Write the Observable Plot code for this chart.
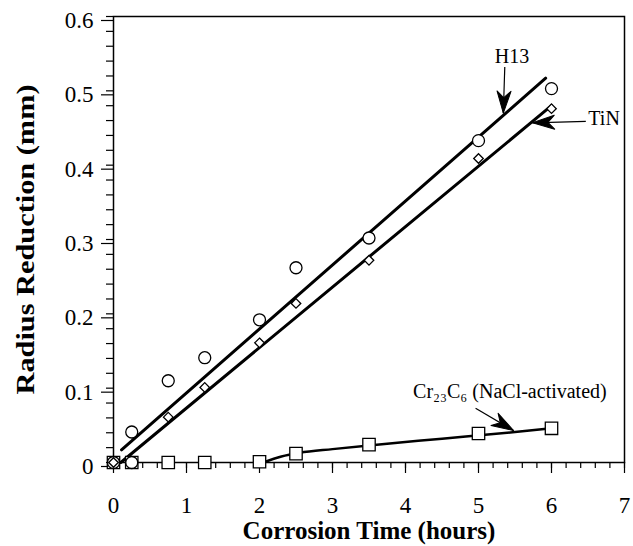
<!DOCTYPE html>
<html><head><meta charset="utf-8">
<script src="https://cdn.jsdelivr.net/npm/d3@7"></script>
<script src="https://cdn.jsdelivr.net/npm/@observablehq/plot@0.6"></script>
<style>html,body{margin:0;padding:0;background:#fff;overflow:hidden} svg{display:block}</style>
</head><body><div id="chart"></div>
<script>
// ---- data ----
const h13Times  = [0, 0.25, 0.25, 0.75, 1.25, 2, 2.5, 3.5, 5, 6];
const h13Values = [0, 0, 0.041, 0.110, 0.141, 0.192, 0.262, 0.302, 0.433, 0.503];
const tinTimes  = [0, 0.75, 1.25, 2, 2.5, 3.5, 5, 6];
const tinValues = [0, 0.061, 0.101, 0.161, 0.214, 0.272, 0.409, 0.476];
const crTimes   = [0, 0.25, 0.75, 1.25, 2, 2.5, 3.5, 5, 6];
const crValues  = [0, 0, 0, 0, 0.001, 0.012, 0.024, 0.039, 0.046];

// fitted lines / curve
const h13FitX = [0.11, 5.92];
const h13FitY = [0.017, 0.517];
const tinFitX = [0.10, 6.0];
const tinFitY = [0.0, 0.48];
const crCurveX = [2.05, 2.3, 2.55, 3.0, 3.5, 4.5, 5.5, 6.0];
const crCurveY = [0.0, 0.008, 0.013, 0.018, 0.023, 0.032, 0.041, 0.046];

// annotations
const labelText = ["H13", "TiN", "Cr₂₃C₆ (NaCl-activated)"];
const labelX = [5.46, 6.72, 5.43];
const labelY = [0.546, 0.463, 0.095];
const arrowX1 = [5.36, 6.47, 4.96];
const arrowY1 = [0.532, 0.459, 0.073];
const arrowX2 = [5.34, 5.74, 5.48];
const arrowY2 = [0.470, 0.457, 0.043];

// axes ticks
const xMajorTicks = [0, 1, 2, 3, 4, 5, 6, 7];
const yMajorTicks = [0, 0.1, 0.2, 0.3, 0.4, 0.5, 0.6];
const xMinorTicks = d3.range(0, 36).map(i => i / 5);
const yMinorTicks = d3.range(0, 31).map(i => i / 50);

const xTitle = "Corrosion Time (hours)";
const yTitle = "Radius Reduction (mm)";

// ---- build ----
const FONT = "Liberation Serif";
const pts = (xs, ys) => xs.map((x, i) => ({x, y: ys[i]}));
const baseOpts = {
  width: 633, height: 546,
  marginLeft: 113, marginRight: 9, marginTop: 16, marginBottom: 84,
  x: {domain: [0, 7]},
  y: {domain: [0, 0.6]},
  style: {fontFamily: FONT, background: "white", color: "black", overflow: "visible"}
};
const probe = Plot.plot({...baseOpts, marks: [Plot.frame()]});
const sx = probe.scale("x"), sy = probe.scale("y");
const arrows = arrowX1.map((x1, i) => {
  const px1 = sx.apply(x1), py1 = sy.apply(arrowY1[i]);
  const px2 = sx.apply(arrowX2[i]), py2 = sy.apply(arrowY2[i]);
  return {x1, y1: arrowY1[i], x2: arrowX2[i], y2: arrowY2[i],
          angle: Math.atan2(px2 - px1, -(py2 - py1)) * 180 / Math.PI};
});
const headShape = {
  draw(context, l, r) {
    context.moveTo(0, -l);
    context.lineTo(r, 0);
    context.lineTo(0, -l * 0.3);
    context.lineTo(-r, 0);
    context.closePath();
  }
};
const labels = labelText.map((t, i) => ({t, x: labelX[i], y: labelY[i]}));

const chart = Plot.plot({
  ...baseOpts,
  marks: [
    Plot.axisX(xMinorTicks, {tickSize: 6, tickFormat: () => "", label: null, strokeWidth: 1.2}),
    Plot.axisX(xMajorTicks, {tickSize: 11, tickPadding: 23, fontSize: 23, label: null, strokeWidth: 1.2, tickFormat: d => String(d)}),
    Plot.axisY(yMinorTicks, {tickSize: 7, tickFormat: () => "", label: null, strokeWidth: 1.2}),
    Plot.axisY(yMajorTicks, {tickSize: 12, tickPadding: 8, dy: 4, fontSize: 23, label: null, strokeWidth: 1.2,
      tickFormat: d => d === 0 ? "0" : d.toFixed(1)}),
    Plot.frame({stroke: "black", strokeWidth: 1.5}),
    Plot.line(pts(h13FitX, h13FitY), {x: "x", y: "y", stroke: "black", strokeWidth: 3}),
    Plot.line(pts(tinFitX, tinFitY), {x: "x", y: "y", stroke: "black", strokeWidth: 3}),
    Plot.line(pts(crCurveX, crCurveY), {x: "x", y: "y", stroke: "black", strokeWidth: 2.5, curve: "monotone-x"}),
    Plot.dot(pts(crTimes, crValues), {x: "x", y: "y", symbol: "square", r: 7, fill: "white", stroke: "black", strokeWidth: 1.3}),
    Plot.dot(pts(h13Times, h13Values), {x: "x", y: "y", symbol: "circle", r: 6, fill: "white", stroke: "black", strokeWidth: 1.3}),
    Plot.dot(pts(tinTimes, tinValues), {x: "x", y: "y", symbol: "diamond2", r: 4.3, fill: "white", stroke: "black", strokeWidth: 1.3}),
    Plot.link(arrows, {x1: "x1", y1: "y1", x2: "x2", y2: "y2", stroke: "black", strokeWidth: 1.2}),
    Plot.vector(arrows, {x: "x2", y: "y2", rotate: "angle", length: 22, r: 7, anchor: "end", shape: headShape, fill: "black", stroke: "black", strokeWidth: 1}),
    Plot.text(labels, {x: "x", y: "y", text: "t", fontSize: 20, fill: "black"}),
    Plot.text([xTitle], {frameAnchor: "bottom", dy: 68, lineAnchor: "middle", textAnchor: "middle", fontSize: 25, fontWeight: "bold", fill: "black"}),
    Plot.text([yTitle], {frameAnchor: "left", dx: -88, rotate: -90, lineAnchor: "middle", textAnchor: "middle", fontSize: 26, fontWeight: "bold", fill: "black"})
  ]
});
// stretch the vertical title to the reference's length
d3.select(chart).selectAll("text").filter(function () { return this.textContent === yTitle; })
  .attr("textLength", 310).attr("lengthAdjust", "spacingAndGlyphs");
document.getElementById("chart").appendChild(chart);
</script>
</body></html>
